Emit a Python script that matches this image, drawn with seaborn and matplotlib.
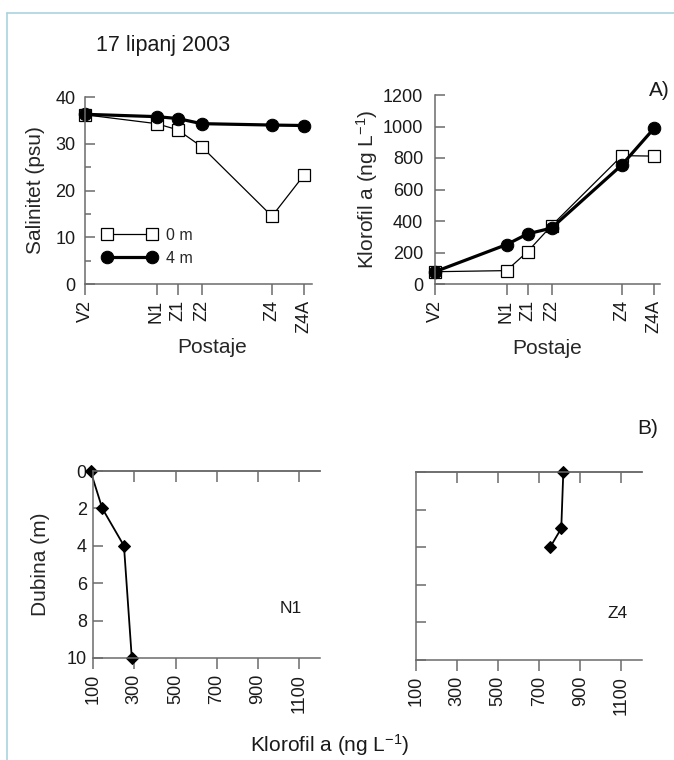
import numpy as np
import matplotlib
matplotlib.use("Agg")
import matplotlib.pyplot as plt
from matplotlib.lines import Line2D
from matplotlib.ticker import MultipleLocator
import seaborn as sns

# stations along the transect (km from V2)
stations = ["V2", "N1", "Z1", "Z2", "Z4", "Z4A"]
station_km = [0.0, 7.15, 9.25, 11.65, 18.7, 21.9]

# salinity (psu)
sal_0m = [36.2, 34.3, 33.0, 29.4, 14.5, 23.3]
sal_4m = [36.3, 35.8, 35.4, 34.3, 34.0, 33.9]

# chlorophyll a (ng/L)
chl_0m = [78, 85, 205, 370, 815, 812]
chl_4m = [78, 250, 318, 355, 757, 988]

# depth profiles
n1_depth = [0, 2, 4, 10]
n1_chl = [88, 145, 250, 288]
z4_depth = [0, 3, 4]
z4_chl = [817, 807, 753]

sns.set_theme(style="ticks")
plt.rcParams["font.family"] = ["Liberation Sans", "DejaVu Sans"]
plt.rcParams["mathtext.fontset"] = "custom"
plt.rcParams["mathtext.rm"] = "Liberation Sans"
plt.rcParams["mathtext.it"] = "Liberation Sans:italic"
plt.rcParams["axes.unicode_minus"] = False

GREY = "#6b6b6b"
TXT = "#1a1a1a"
W, H = 674, 760
UNIT = "Klorofil a (ng L$^{\\mathregular{-1}}$)"


def box(x0, y0, x1, y1):
    # pixel box (top-left origin) -> figure fraction rect
    return [x0 / W, 1 - y1 / H, (x1 - x0) / W, (y1 - y0) / H]


def style_axes(ax, spines=("left", "bottom")):
    for s in ["left", "right", "top", "bottom"]:
        ax.spines[s].set_visible(s in spines)
        ax.spines[s].set_color(GREY)
        ax.spines[s].set_linewidth(1.1)
    ax.tick_params(colors=GREY, labelcolor=TXT, labelsize=13, width=1.1)


fig = plt.figure(figsize=(W / 100, H / 100), dpi=100)

# ---------- A) salinity ----------
ax1 = fig.add_axes(box(85, 97, 312, 284))
style_axes(ax1)
sns.lineplot(x=station_km, y=sal_0m, ax=ax1, color="black", lw=0.9, marker="s",
             markersize=8.5, markerfacecolor="white", markeredgecolor="black",
             markeredgewidth=0.9, label="0 m", clip_on=False)
sns.lineplot(x=station_km, y=sal_4m, ax=ax1, color="black", lw=2.3, marker="o",
             markersize=9, markeredgecolor="black", label="4 m", clip_on=False)
ax1.set_xlim(0, 22.7)
ax1.set_ylim(0, 40)
ax1.yaxis.set_major_locator(MultipleLocator(10))
ax1.yaxis.set_minor_locator(MultipleLocator(5))
ax1.tick_params(axis="y", which="major", direction="in", length=7, pad=7)
ax1.tick_params(axis="y", which="minor", direction="in", length=4.5, width=1.1, colors=GREY)
ax1.set_xticks(station_km)
ax1.set_xticklabels(stations, rotation=90)
ax1.tick_params(axis="x", direction="out", length=8)
ax1.set_ylabel("Salinitet (psu)", fontsize=15, va="center")
ax1.yaxis.set_label_coords(-0.22, 0.5)
ax1.set_xlabel("Postaje", fontsize=15, va="center")
ax1.xaxis.set_label_coords(0.56, -0.342)
ax1.legend(loc="center left", bbox_to_anchor=(0.012, 0.2), frameon=False,
           numpoints=2, handlelength=3.4, fontsize=11.5, labelspacing=0.5,
           handletextpad=0.6)

# ---------- A) chlorophyll ----------
ax2 = fig.add_axes(box(435, 95, 660, 284))
style_axes(ax2)
sns.lineplot(x=station_km, y=chl_0m, ax=ax2, color="black", lw=0.9, marker="s",
             markersize=8.5, markerfacecolor="white", markeredgecolor="black",
             markeredgewidth=0.9, clip_on=False)
sns.lineplot(x=station_km, y=chl_4m, ax=ax2, color="black", lw=2.3, marker="o",
             markersize=9, markeredgecolor="black", clip_on=False)
ax2.set_xlim(0, 22.5)
ax2.set_ylim(0, 1200)
ax2.yaxis.set_major_locator(MultipleLocator(200))
ax2.tick_params(axis="y", direction="in", length=7, pad=8.5)
ax2.set_xticks(station_km)
ax2.set_xticklabels(stations, rotation=90)
ax2.tick_params(axis="x", direction="out", length=8)
ax2.set_ylabel(UNIT, fontsize=15, va="center")
ax2.yaxis.set_label_coords(-0.30, 0.5)
ax2.set_xlabel("Postaje", fontsize=15, va="center")
ax2.xaxis.set_label_coords(0.5, -0.342)

# ---------- B) depth profiles ----------
profiles = [(n1_chl, n1_depth, "N1", box(93, 471, 320, 658), (0.87, 0.267)),
            (z4_chl, z4_depth, "Z4", box(416, 472, 642, 660), (0.894, 0.25))]
for i, (chl, depth, name, rect, lab_xy) in enumerate(profiles):
    ax = fig.add_axes(rect)
    style_axes(ax, spines=("left", "bottom", "top"))
    sns.lineplot(x=chl, y=depth, ax=ax, sort=False, color="black", lw=1.3,
                 marker="D", markersize=6.5, markeredgecolor="black", clip_on=False)
    ax.set_xlim(100, 1200)
    ax.set_ylim(10, 0)
    ax.set_xticks(np.arange(100, 1101, 200))
    ax.tick_params(axis="x", direction="out", length=8, labelrotation=90)
    ax.set_yticks(np.arange(0, 11, 2))
    ax.tick_params(axis="y", direction="in", length=7, pad=4.5)
    top = ax.secondary_xaxis("top")
    top.set_xticks(np.arange(300, 1101, 200))
    top.tick_params(direction="in", length=8, colors=GREY, width=1.1, labeltop=False)
    top.spines["top"].set_color(GREY)
    top.spines["top"].set_linewidth(1.1)
    ax.text(lab_xy[0], lab_xy[1], name, transform=ax.transAxes, fontsize=12.5,
            color=TXT, ha="center", va="center")
    ax.set_xlabel("")
    if i == 0:
        ax.set_ylabel("Dubina (m)", fontsize=15, va="center")
        ax.yaxis.set_label_coords(-0.233, 0.5)
    else:
        ax.set_ylabel("")
        ax.set_yticklabels([])

fig.text(330 / W, 1 - 745 / H, UNIT, fontsize=15,
         color=TXT, ha="center", va="center")
fig.text(96 / W, 1 - 45 / H, "17 lipanj 2003", fontsize=15.5, color=TXT,
         ha="left", va="center")
fig.text(649 / W, 1 - 90 / H, "A)", fontsize=15, color=TXT, ha="left", va="center")
fig.text(637 / W, 1 - 428 / H, "B)", fontsize=15, color=TXT, ha="left", va="center")

# light blue frame lines (top and left edge)
fig.add_artist(Line2D([7 / W, 1], [1 - 13 / H, 1 - 13 / H], color="#a9d3df", lw=1.2,
                      transform=fig.transFigure))
fig.add_artist(Line2D([7 / W, 7 / W], [0, 1 - 13 / H], color="#a9d3df", lw=1.2,
                      transform=fig.transFigure))

fig.savefig("out.png", dpi=100)
